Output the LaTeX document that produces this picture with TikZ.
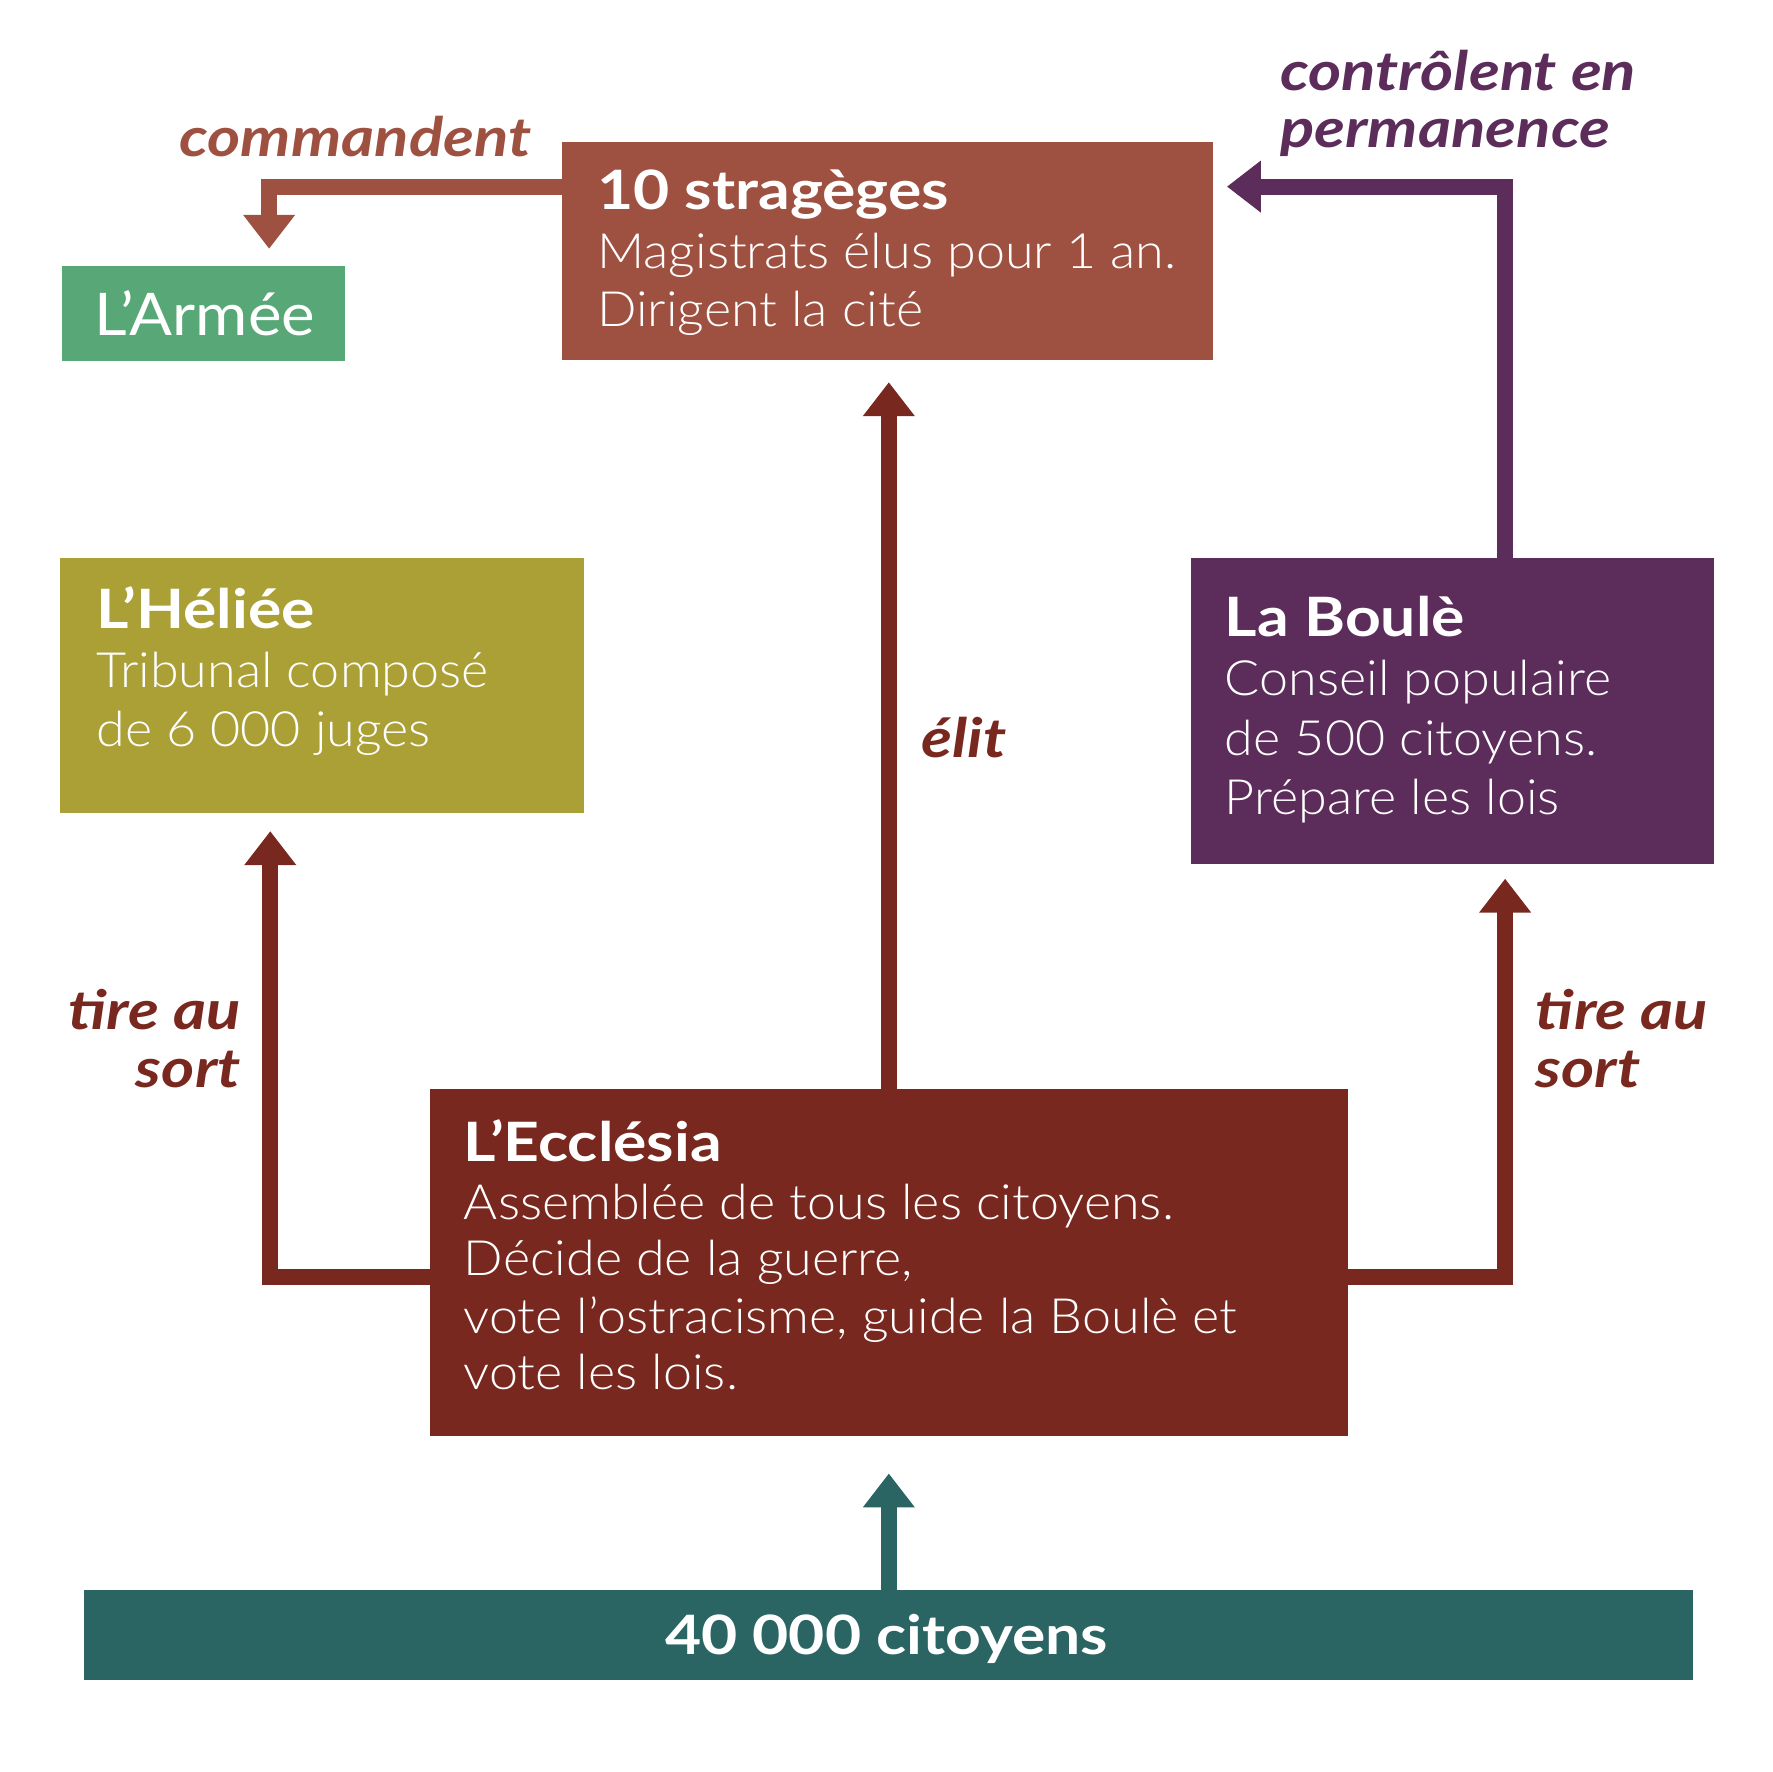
\documentclass[tikz,border=0pt]{standalone}
\usepackage{fontspec}
\setmainfont{Lato}[UprightFont=* Light, BoldFont=* Bold, ItalicFont=* Light Italic, BoldItalicFont=* Bold Italic,
  UprightFeatures={FakeStretch=1.07}, BoldFeatures={FakeStretch=1.15}, BoldItalicFeatures={FakeStretch=1.17}]
\newfontfamily\latoreg{Lato}[FakeStretch=1.08]
\usetikzlibrary{arrows.meta}
\definecolor{cStrat}{HTML}{9E5140}
\definecolor{cArmee}{HTML}{58A776}
\definecolor{cHeliee}{HTML}{ABA036}
\definecolor{cBoule}{HTML}{5C2C5A}
\definecolor{cEccl}{HTML}{78281E}
\definecolor{cCit}{HTML}{2A6463}
\begin{document}
\begin{tikzpicture}[x=1pt,y=-1pt,
  box/.style={rectangle, inner sep=0pt, outer sep=0pt, anchor=north west},
  ttl/.style={anchor=base west, text=white, inner sep=0pt, font=\fontsize{48}{58}\selectfont\bfseries},
  bdy/.style={anchor=base west, text=white, inner sep=0pt, font=\fontsize{43}{52}\selectfont},
  lbl/.style={inner sep=0pt, font=\fontsize{48}{52}\selectfont\bfseries\itshape},
  arr/.style={line width=14pt, -{Triangle[width=44pt,length=30pt]}}
]
\useasboundingbox (0,0) rectangle (1567,1567);
% boxes
\node[box, fill=cArmee, minimum width=250pt, minimum height=84pt] (armee) at (55,235) {};
\node[box, fill=cStrat, minimum width=576pt, minimum height=192pt] (strat) at (497,126) {};
\node[box, fill=cHeliee, minimum width=463pt, minimum height=226pt] (heliee) at (53,493) {};
\node[box, fill=cBoule, minimum width=463pt, minimum height=271pt] (boule) at (1053,493) {};
\node[box, fill=cEccl, minimum width=812pt, minimum height=307pt] (eccl) at (380,963) {};
\node[box, fill=cCit, minimum width=1423pt, minimum height=80pt] (cit) at (74,1406) {};
% arrow targets
\coordinate (armeeIn) at (238,220);
\coordinate (stratInR) at (1085,165);
\coordinate (stratInB) at (786,338);
\coordinate (helieeIn) at (239,735);
\coordinate (bouleIn) at (1331,777);
\coordinate (ecclIn) at (786,1303);
% arrows
\draw[arr, cStrat] ([yshift=-39pt]strat.north west) -| (armeeIn);
\draw[arr, cBoule] ([xshift=278pt]boule.north west) |- (stratInR);
\draw[arr, cEccl] ([xshift=406pt]eccl.north west) -- (stratInB);
\draw[arr, cEccl] ([yshift=-166pt]eccl.north west) -| (helieeIn);
\draw[arr, cEccl] ([yshift=-166pt]eccl.north east) -| (bouleIn);
\draw[arr, cCit] ([xshift=712pt]cit.north west) -- (ecclIn);
% texts
\node[anchor=base, text=white, inner sep=0pt, font=\fontsize{52}{60}\selectfont\latoreg] (tArmee) at (181,297) {L’Armée};
\node[ttl] (tStrat) at (528,185) {10 stragèges};
\node[bdy] (tStrat1) at (528,237) {Magistrats élus pour 1 an.};
\node[bdy] (tStrat2) at (528,289) {Dirigent la cité};
\node[ttl] (tHel) at (85,556) {L’Héliée};
\node[bdy] (tHel1) at (85,608) {Tribunal composé};
\node[bdy] (tHel2) at (85,660) {de 6 000 juges};
\node[ttl] (tBou) at (1083,563) {La Boulè};
\node[bdy] (tBou1) at (1083,615) {Conseil populaire};
\node[bdy] (tBou2) at (1083,668) {de 500 citoyens.};
\node[bdy] (tBou3) at (1083,720) {Prépare les lois};
\node[ttl] (tEcc) at (410,1027) {L’Ecclésia};
\node[bdy] (tEcc1) at (410,1078) {Assemblée de tous les citoyens.};
\node[bdy] (tEcc2) at (410,1128) {Décide de la guerre,};
\node[bdy] (tEcc3) at (410,1179) {vote l’ostracisme, guide la Boulè et};
\node[bdy] (tEcc4) at (410,1229) {vote les lois.};
\node[anchor=base, text=white, inner sep=0pt, font=\fontsize{48}{58}\selectfont\bfseries] (tCit) at (784,1463) {40 000 citoyens};
% labels
\node[lbl, text=cStrat, anchor=base east] (lCmd) at (470,138) {commandent};
\node[lbl, text=cBoule, anchor=base west] (lCtl1) at (1132,80) {contrôlent en};
\node[lbl, text=cBoule, anchor=base west] (lCtl2) at (1132,130) {permanence};
\node[lbl, text=cEccl, anchor=base west] (lElit) at (815,670) {élit};
\node[lbl, text=cEccl, anchor=base east] (lTL1) at (213,910) {tire au};
\node[lbl, text=cEccl, anchor=base east] (lTL2) at (213,962) {sort};
\node[lbl, text=cEccl, anchor=base west] (lTR1) at (1358,910) {tire au};
\node[lbl, text=cEccl, anchor=base west] (lTR2) at (1358,962) {sort};
\end{tikzpicture}
\end{document}
